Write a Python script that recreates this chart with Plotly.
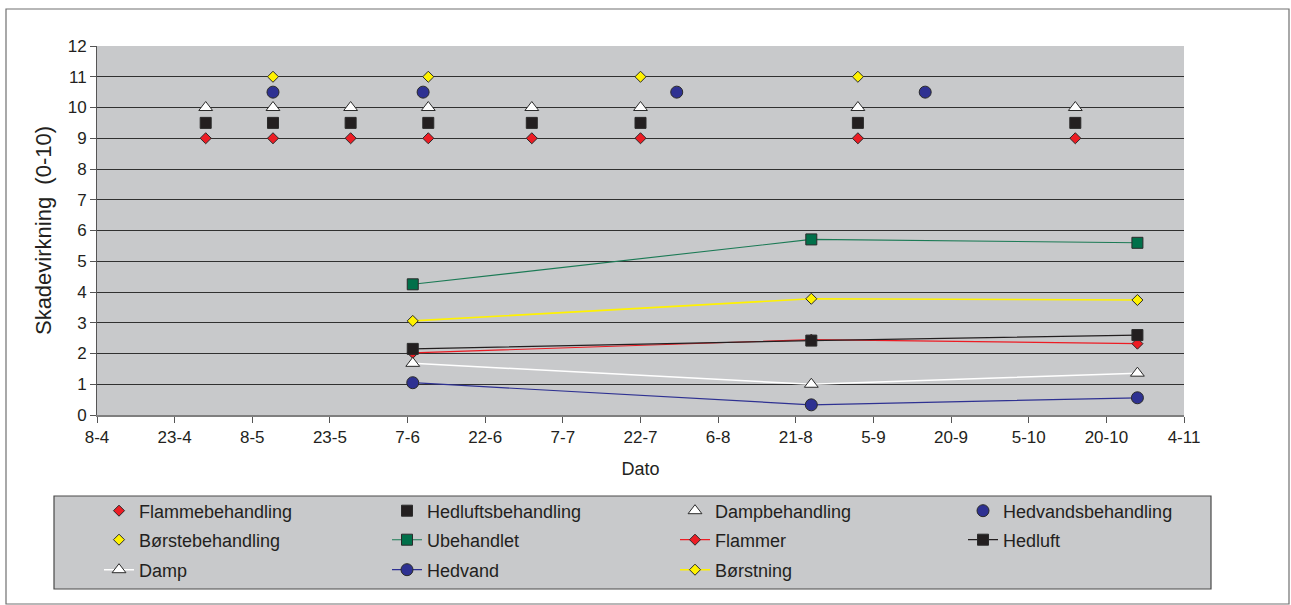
import plotly.graph_objects as go

# ---------------- data ----------------
scatter_dates = ["2005-04-29", "2005-05-12", "2005-05-27", "2005-06-11",
                 "2005-07-01", "2005-07-22", "2005-09-02", "2005-10-14"]
flammebehandling = [9, 9, 9, 9, 9, 9, 9, 9]
hedluftsbehandling = [9.5, 9.5, 9.5, 9.5, 9.5, 9.5, 9.5, 9.5]
dampbehandling = [10, 10, 10, 10, 10, 10, 10, 10]

hedvand_dates = ["2005-05-12", "2005-06-10", "2005-07-29", "2005-09-15"]
hedvandsbehandling = [10.5, 10.5, 10.5, 10.5]

borste_dates = ["2005-05-12", "2005-06-11", "2005-07-22", "2005-09-02"]
borstebehandling = [11, 11, 11, 11]

line_dates = ["2005-06-08", "2005-08-24", "2005-10-26"]
ubehandlet = [4.25, 5.71, 5.60]
flammer = [2.02, 2.45, 2.32]
hedluft = [2.15, 2.42, 2.60]
damp = [1.68, 1.00, 1.36]
hedvand = [1.05, 0.33, 0.56]
borstning = [3.06, 3.78, 3.74]

x_range = ["2005-04-08", "2005-11-04"]
y_title = "Skadevirkning  (0-10)"
x_title = "Dato"

# ---------------- styles ----------------
RED = "#ED1C24"
YELLOW = "#FFF200"
NAVY = "#2E3192"
GREEN = "#00704A"
BLACK = "#231F20"
WHITE = "#FFFFFF"
EDGE = dict(color="#2a2a2a", width=1)
BG = "#C8C9CB"
FONT = "Liberation Sans, Arial, sans-serif"

fig = go.Figure()

def pts(name, x, y, symbol, color, size, legend):
    fig.add_trace(go.Scatter(x=x, y=y, name=name, mode="markers",
                             marker=dict(symbol=symbol, color=color, size=size, line=EDGE),
                             legend=legend))

def ln(name, x, y, symbol, color, size, lcolor, lwidth, legend):
    fig.add_trace(go.Scatter(x=x, y=y, name=name, mode="lines+markers",
                             line=dict(color=lcolor, width=lwidth),
                             marker=dict(symbol=symbol, color=color, size=size, line=EDGE),
                             legend=legend))

pts("Flammebehandling", scatter_dates, flammebehandling, "diamond", RED, 8.5, "legend")
pts("Hedluftsbehandling", scatter_dates, hedluftsbehandling, "square", BLACK, 11, "legend")
pts("Dampbehandling", scatter_dates, dampbehandling, "triangle-up", WHITE, 12, "legend")
pts("Hedvandsbehandling", hedvand_dates, hedvandsbehandling, "circle", NAVY, 12, "legend")
pts("Børstebehandling", borste_dates, borstebehandling, "diamond", YELLOW, 8.5, "legend2")
ln("Ubehandlet", line_dates, ubehandlet, "square", GREEN, 11, "#1B7A55", 1.1, "legend2")
ln("Flammer", line_dates, flammer, "diamond", RED, 8.5, RED, 1.2, "legend2")
ln("Hedluft", line_dates, hedluft, "square", BLACK, 11, BLACK, 1.2, "legend2")
ln("Damp", line_dates, damp, "triangle-up", WHITE, 12, WHITE, 1.5, "legend3")
ln("Hedvand", line_dates, hedvand, "circle", NAVY, 12, NAVY, 1.2, "legend3")
ln("Børstning", line_dates, borstning, "diamond", YELLOW, 8.5, YELLOW, 1.6, "legend3")

# plot area in pixels: left 97, right 1184, top 46, bottom 415
L, R, T, B = 97, 1184, 46, 415
W, H = 1291, 605
def px(x):
    return (x - L) / (R - L)
def py(y):
    return (B - y) / (B - T)

leg_common = dict(orientation="h", xanchor="left", yanchor="middle",
                  bgcolor="rgba(0,0,0,0)", borderwidth=0,
                  font=dict(family=FONT, size=18, color=BLACK),
                  entrywidth=239, entrywidthmode="pixels",
                  indentation=4)
x_leg = px(95)

fig.update_layout(
    width=W, height=H,
    margin=dict(l=L, r=W - R, t=T, b=H - B, pad=0),
    paper_bgcolor="white",
    plot_bgcolor=BG,
    font=dict(family=FONT, color=BLACK),
    showlegend=True,
    legend=dict(x=x_leg, y=py(511), **leg_common),
    legend2=dict(x=x_leg, y=py(540), **leg_common),
    legend3=dict(x=x_leg, y=py(570), **leg_common),
    xaxis=dict(
        type="date", range=x_range,
        tick0=x_range[0], dtick=15 * 86400000, tickformat="%-d-%-m",
        ticks="outside", ticklen=6, tickcolor="#555", tickwidth=1,
        showgrid=False, zeroline=False,
        showline=True, linecolor="#7f7f7f", linewidth=2,
        tickfont=dict(family=FONT, size=17, color=BLACK),
        title=dict(text=x_title, font=dict(family=FONT, size=18, color=BLACK), standoff=16),
    ),
    yaxis=dict(
        range=[0, 12], dtick=1, tick0=0,
        ticks="outside", ticklen=6, tickcolor="#555", tickwidth=1,
        showgrid=True, gridcolor="#303030", gridwidth=1,
        zeroline=False,
        showline=True, linecolor="#555", linewidth=1,
        tickfont=dict(family=FONT, size=17, color=BLACK),
        title=dict(text=y_title, font=dict(family=FONT, size=22, color=BLACK), standoff=9),
    ),
    shapes=[
        # outer frame
        dict(type="rect", xref="paper", yref="paper", layer="below",
             x0=px(6), x1=px(1289), y0=py(9), y1=py(604),
             line=dict(color="#707070", width=1.2), fillcolor="rgba(0,0,0,0)"),
        # legend box
        dict(type="rect", xref="paper", yref="paper", layer="below",
             x0=px(54), x1=px(1211), y0=py(496), y1=py(589),
             line=dict(color="#4a4a4a", width=1.2), fillcolor=BG),
    ],
)

fig.write_html("out.html",
               config={"displayModeBar": False},
               post_script="document.body.style.margin='0px';document.body.style.overflow='hidden';")
